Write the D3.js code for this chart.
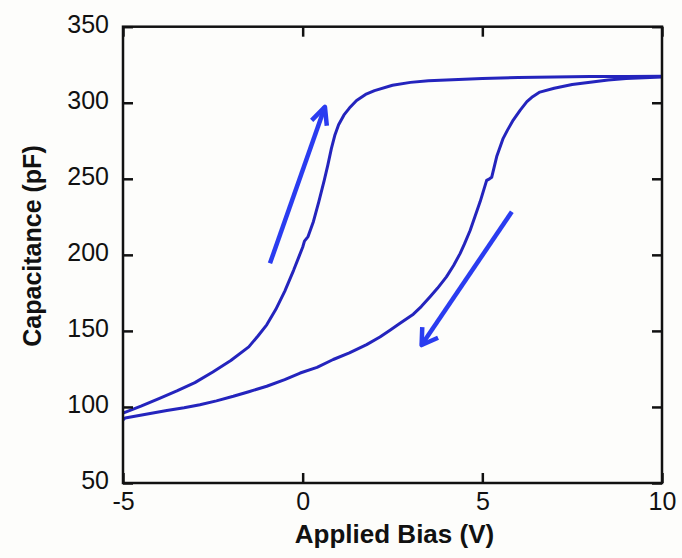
<!DOCTYPE html>
<html>
<head>
<meta charset="utf-8">
<script src="https://cdn.jsdelivr.net/npm/d3@7"></script>
<style>
  html, body { margin: 0; padding: 0; background: #fdfdfb; }
  svg { display: block; font-family: "Liberation Sans", Arial, Helvetica, sans-serif; }
</style>
</head>
<body>
<svg id="chart" width="682" height="558"></svg>
<script>
// Forward sweep (-5 V -> 10 V): bias (V) and capacitance (pF)
const forwardBias = [-5.0, -4.5, -4.0, -3.5, -3.0, -2.5, -2.0, -1.5, -1.25, -1.0, -0.75, -0.5, -0.25, -0.1, 0.0, 0.05, 0.15, 0.3, 0.45, 0.6, 0.7, 0.8, 0.9, 1.0, 1.15, 1.3, 1.5, 1.75, 2.0, 2.5, 3.0, 3.5, 4.0, 5.0, 6.0, 7.0, 8.0, 9.0, 10.0];
const forwardCap  = [96, 100.5, 105.5, 110.5, 116, 123, 130.5, 139.5, 146.5, 154, 164, 176, 190, 199, 205, 209, 212, 222, 235, 249, 259, 270, 279, 285.5, 292, 296.5, 301.5, 305.5, 308, 311.5, 313.4, 314.5, 315, 316, 316.6, 317, 317.2, 317.3, 317.5];

// Reverse sweep (10 V -> -5 V)
const reverseBias = [10.0, 9.0, 8.5, 8.0, 7.5, 7.0, 6.6, 6.4, 6.24, 6.05, 5.86, 5.7, 5.58, 5.4, 5.26, 5.2, 5.12, 4.94, 4.8, 4.66, 4.5, 4.38, 4.2, 4.0, 3.75, 3.54, 3.3, 3.08, 2.71, 2.43, 2.15, 1.78, 1.3, 0.85, 0.4, -0.07, -0.5, -1.0, -1.5, -1.93, -2.4, -2.86, -3.3, -3.78, -4.4, -4.94, -5.0];
const reverseCap  = [317, 316, 315, 313.5, 312, 309.5, 307, 304, 300.7, 295, 288.6, 282, 276.6, 264.6, 251, 250, 249, 235, 225.5, 216, 207, 200.8, 193, 185.5, 178, 172.3, 166, 161, 155, 150.5, 146, 141, 135.5, 131.2, 126, 122.3, 118, 113.6, 110, 107, 104, 101.5, 99.5, 97.6, 95, 92.8, 91.5];

// Sweep-direction arrows, [bias, capacitance] of tail and head
const arrowForward = [[-0.91, 194.4], [0.62, 297.3]];
const arrowReverse = [[5.82, 228.3], [3.31, 140.7]];

// Axis ticks
const xTicks = [-5, 0, 5, 10];
const yTicks = [50, 100, 150, 200, 250, 300, 350];

const svg = d3.select("#chart");
const margin = { top: 26.7, right: 20, bottom: 75, left: 123 };
const W = 682, H = 558;
const iw = W - margin.left - margin.right;
const ih = H - margin.top - margin.bottom;

const x = d3.scaleLinear().domain([-5, 10]).range([0, iw]);
const y = d3.scaleLinear().domain([50, 350]).range([ih, 0]);

const g = svg.append("g").attr("transform", `translate(${margin.left},${margin.top})`);

// Curves
const line = d3.line().x(d => x(d[0])).y(d => y(d[1]));
const fwd = d3.zip(forwardBias, forwardCap);
const rev = d3.zip(reverseBias, reverseCap);
[rev, fwd].forEach(pts => {
  g.append("path")
    .datum(pts)
    .attr("d", line)
    .attr("fill", "none")
    .attr("stroke", "#2424bd")
    .attr("stroke-width", 3)
    .attr("stroke-linejoin", "round");
});

// Arrows
function drawArrow(a, len, ang) {
  const [t, h] = a.map(p => [x(p[0]), y(p[1])]);
  const back = Math.atan2(t[1] - h[1], t[0] - h[0]);
  const w1 = [h[0] + len * Math.cos(back + ang), h[1] + len * Math.sin(back + ang)];
  const w2 = [h[0] + len * Math.cos(back - ang), h[1] + len * Math.sin(back - ang)];
  const ag = g.append("g")
    .attr("fill", "none")
    .attr("stroke", "#2a3cf0")
    .attr("stroke-width", 4.5)
    .attr("stroke-linejoin", "round");
  ag.append("path").attr("d", d3.line()([t, h]));
  ag.append("path").attr("d", d3.line()([w1, h, w2]));
}
drawArrow(arrowForward, 19, Math.PI * 25 / 180);
drawArrow(arrowReverse, 18, Math.PI * 32 / 180);

// Axes with inward ticks
const fontSize = 25;
const fmt = d => String(d);
const xAxis = g.append("g").attr("transform", `translate(0,${ih})`)
  .call(d3.axisBottom(x).tickValues(xTicks).tickSize(-10).tickPadding(9).tickFormat(fmt));
const yAxis = g.append("g")
  .call(d3.axisLeft(y).tickValues(yTicks).tickSize(-10).tickPadding(14).tickFormat(fmt));
const xTop = g.append("g")
  .call(d3.axisTop(x).tickValues(xTicks).tickSize(-10).tickFormat(""));
const yRight = g.append("g").attr("transform", `translate(${iw},0)`)
  .call(d3.axisRight(y).tickValues(yTicks).tickSize(-10).tickFormat(""));

[xAxis, yAxis, xTop, yRight].forEach(a => {
  a.select(".domain").remove();
  a.selectAll(".tick line").attr("stroke", "#111").attr("stroke-width", 2.5);
  a.selectAll(".tick text")
    .attr("font-size", fontSize)
    .attr("font-family", "'Liberation Sans', Arial, sans-serif")
    .attr("fill", "#111");
});
yAxis.selectAll(".tick text").attr("dy", "0.22em");

// Frame
g.append("rect")
  .attr("x", 0).attr("y", 0).attr("width", iw).attr("height", ih)
  .attr("fill", "none").attr("stroke", "#111").attr("stroke-width", 2.5);

// Axis titles
svg.append("text")
  .attr("x", margin.left + iw / 2 + 2)
  .attr("y", 543)
  .attr("text-anchor", "middle")
  .attr("font-size", 26)
  .attr("font-weight", "bold")
  .attr("fill", "#111")
  .text("Applied Bias (V)");

svg.append("text")
  .attr("transform", `translate(41,246) rotate(-90)`)
  .attr("text-anchor", "middle")
  .attr("font-size", 25)
  .attr("font-weight", "bold")
  .attr("fill", "#111")
  .text("Capacitance (pF)");
</script>
</body>
</html>
